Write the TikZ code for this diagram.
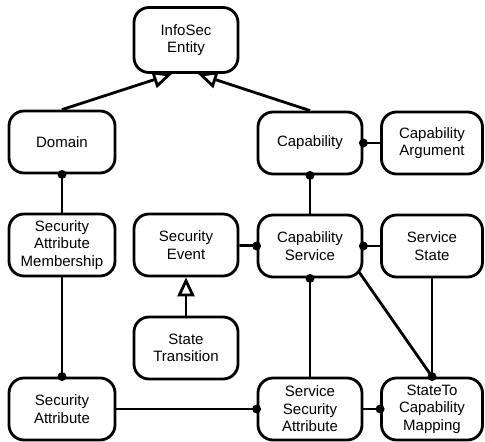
\documentclass[tikz,border=0pt]{standalone}
\usepackage{fontspec}
\setmainfont{Liberation Sans}
\usetikzlibrary{arrows.meta}
\pgfdeclarelayer{background}
\pgfsetlayers{background,main}
\begin{document}
\begin{tikzpicture}[x=1pt,y=-1pt,
  box/.style={draw, fill=white, line width=2.8pt, rounded corners=15pt,
    minimum width=104pt, minimum height=62pt, align=center, inner sep=0pt,
    font=\fontsize{15}{17.5}\selectfont},
  narrow/.style={minimum width=101pt},
  conn/.style={line width=2.8pt},
  gen/.style={conn, -{Triangle[open, length=19pt, width=17pt, line width=2.8pt]}},
  dotmark/.style={fill=black}]
\useasboundingbox (0,0) rectangle (485,442);

\node[box, minimum height=65pt] (info) at (186,40) {InfoSec\\Entity};
\node[box, minimum width=106pt] (domain) at (62,142) {Domain};
\node[box, minimum width=106pt] (sam) at (62,245) {Security\\Attribute\\Membership};
\node[box] (se) at (186,245) {Security\\Event};
\node[box] (cap) at (310,143) {Capability};
\node[box, narrow] (capArg) at (432,143) {Capability\\Argument};
\node[box] (cs) at (310,246) {Capability\\Service};
\node[box, narrow] (ss) at (432,246) {Service\\State};
\node[box] (st) at (186,348) {State\\Transition};
\node[box, minimum width=106pt] (sa) at (62,409) {Security\\Attribute};
\node[box] (ssa) at (310,409) {Service\\Security\\Attribute};
\node[box, narrow] (stcm) at (432,409) {StateTo\\Capability\\Mapping};

\begin{pgfonlayer}{background}
\draw[conn] (domain) -- (sam);
\draw[conn] (sam) -- (sa);
\draw[conn] (se) -- (cs);
\draw[conn] (cap) -- (capArg);
\draw[conn] (cap) -- (cs);
\draw[conn] (cs) -- (ss);
\draw[conn] (cs) -- (ssa);
\draw[conn] ([xshift=-8.3pt,yshift=12pt]cs.south east) -- (stcm.north);
\draw[conn] (ss) -- (stcm);
\draw[conn] (sa) -- (ssa);
\draw[conn] (ssa) -- (stcm);
\end{pgfonlayer}

\draw[gen] (domain.north) -- ([xshift=-14pt]info.south);
\draw[gen] (cap.north) -- ([xshift=12pt]info.south);
\draw[gen] (st.north) -- (se.south);

\fill[dotmark] (domain.south) circle (4.5pt);
\fill[dotmark] (sa.north) circle (4.5pt);
\fill[dotmark] (cs.west) circle (4.5pt);
\fill[dotmark] (cap.east) circle (4.5pt);
\fill[dotmark] (cap.south) circle (4.5pt);
\fill[dotmark] (cs.east) circle (4.5pt);
\fill[dotmark] (cs.south) circle (4.5pt);
\fill[dotmark] (stcm.north) circle (4.5pt);
\fill[dotmark] (ssa.west) circle (4.5pt);
\fill[dotmark] (stcm.west) circle (4.5pt);
\end{tikzpicture}
\end{document}
